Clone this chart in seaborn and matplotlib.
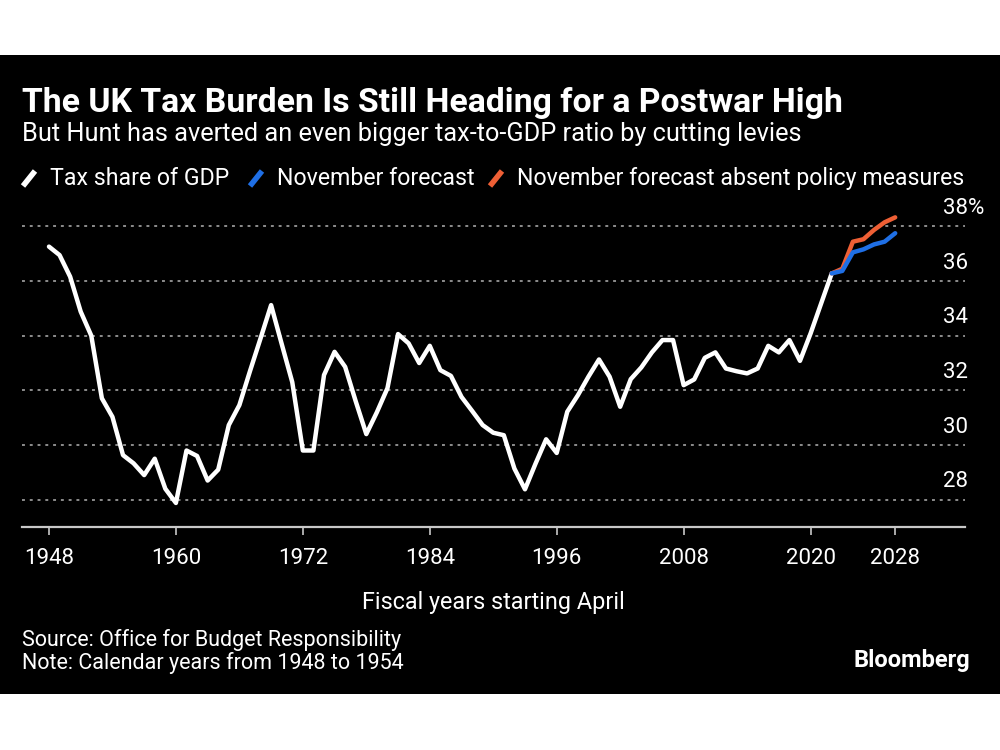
import matplotlib
matplotlib.use("Agg")
import matplotlib.pyplot as plt
from matplotlib.lines import Line2D
from matplotlib.patches import Rectangle
import seaborn as sns
import pandas as pd

# tax-to-GDP ratio, %
years = list(range(1948, 2023))
tax_share = [37.26, 36.95, 36.16, 34.88, 34.0, 31.71, 31.03, 29.63, 29.33, 28.9,
             29.5, 28.4, 27.88, 29.8, 29.6, 28.7, 29.1, 30.73, 31.46, 32.7,
             33.9, 35.12, 33.7, 32.3, 29.8, 29.8, 32.56, 33.41, 32.86, 31.6,
             30.4, 31.2, 32.08, 34.06, 33.72, 33.0, 33.63, 32.74, 32.53, 31.76,
             31.25, 30.73, 30.45, 30.36, 29.14, 28.38, 29.32, 30.21, 29.71, 31.22,
             31.82, 32.5, 33.13, 32.5, 31.4, 32.41, 32.84, 33.39, 33.84, 33.84,
             32.19, 32.4, 33.19, 33.39, 32.8, 32.7, 32.62, 32.8, 33.63, 33.39,
             33.84, 33.08, 34.08, 35.18, 36.28]

forecast_years = list(range(2022, 2029))
november_forecast = [36.28, 36.37, 37.05, 37.16, 37.34, 37.44, 37.75]
absent_measures = [36.28, 36.45, 37.44, 37.53, 37.87, 38.15, 38.33]

x_ticks = [1948, 1960, 1972, 1984, 1996, 2008, 2020, 2028]
y_ticks = [28, 30, 32, 34, 36, 38]
y_labels = ['28', '30', '32', '34', '36', '38%']

hist = pd.DataFrame({'year': years, 'value': tax_share})
fc = pd.DataFrame({'year': forecast_years, 'nov': november_forecast, 'absent': absent_measures})

BLUE = '#1f6fe5'
ORANGE = '#ee5f35'
GREY = '#c8c8c8'

sns.set_style('dark')
plt.rcParams['font.family'] = ['Roboto', 'DejaVu Sans']
plt.rcParams['text.color'] = 'white'

fig = plt.figure(figsize=(10, 7.5), dpi=100)
fig.patch.set_facecolor('white')
fig.add_artist(Rectangle((0, 0.0747), 1, 0.852, transform=fig.transFigure,
                         facecolor='black', edgecolor='none', zorder=-10))

ax = fig.add_axes([0.022, 0.2973, 0.943, 0.4373])
ax.set_facecolor('black')

sns.lineplot(data=hist, x='year', y='value', ax=ax, color='white', lw=3.2)
sns.lineplot(data=fc, x='year', y='absent', ax=ax, color=ORANGE, lw=3.2)
sns.lineplot(data=fc, x='year', y='nov', ax=ax, color=BLUE, lw=3.2)

ax.set_xlim(1945.45, 2034.6)
ax.set_ylim(27, 39)

ax.set_yticks(y_ticks)
ax.grid(axis='y', color='#8c8c8c', linestyle=(0, (1.5, 2.5)), lw=1.4)
ax.grid(axis='x', visible=False)
ax.tick_params(axis='y', left=False, right=False, labelleft=False)
for v, lab in zip(y_ticks, y_labels):
    ax.annotate(lab, xy=(1, v), xycoords=('axes fraction', 'data'),
                xytext=(-15.8, 9), textcoords='offset points',
                ha='left', va='baseline', color='white', fontsize=16)

ax.set_xticks(x_ticks)
ax.set_xticklabels([str(t) for t in x_ticks])
ax.tick_params(axis='x', bottom=True, length=6, width=1.2, color=GREY,
               labelcolor='white', labelsize=16, pad=9)

for s in ['top', 'left', 'right']:
    ax.spines[s].set_visible(False)
ax.spines['bottom'].set_color(GREY)
ax.spines['bottom'].set_linewidth(1.6)

ax.set_xlabel('Fiscal years starting April', color='white', fontsize=16.8, labelpad=16)
ax.set_ylabel('')

# title block
fig.text(0.022, 1 - 112 / 750, 'The UK Tax Burden Is Still Heading for a Postwar High',
         fontsize=24.3, fontweight='bold', va='baseline', ha='left')
fig.text(0.022, 1 - 141 / 750,
         'But Hunt has averted an even bigger tax-to-GDP ratio by cutting levies',
         fontsize=18.3, va='baseline', ha='left')

# legend
leg = [(23, 'Tax share of GDP', 'white'),
       (250, 'November forecast', BLUE),
       (490, 'November forecast absent policy measures', ORANGE)]
for x0, text, col in leg:
    fig.add_artist(Line2D([x0 / 1000, (x0 + 12) / 1000], [1 - 186 / 750, 1 - 171 / 750],
                          color=col, lw=4, transform=fig.transFigure,
                          solid_capstyle='butt'))
    fig.text((x0 + 27) / 1000, 1 - 185 / 750, text, fontsize=16.7,
             va='baseline', ha='left')

# footer
fig.text(0.022, 1 - 646 / 750, 'Source: Office for Budget Responsibility',
         fontsize=15.5, va='baseline', ha='left')
fig.text(0.022, 1 - 669 / 750, 'Note: Calendar years from 1948 to 1954',
         fontsize=15.5, va='baseline', ha='left')
fig.text(0.97, 1 - 667 / 750, 'Bloomberg', fontsize=17, fontweight='bold',
         va='baseline', ha='right')

fig.savefig('out.png', dpi=100, facecolor=fig.get_facecolor())
